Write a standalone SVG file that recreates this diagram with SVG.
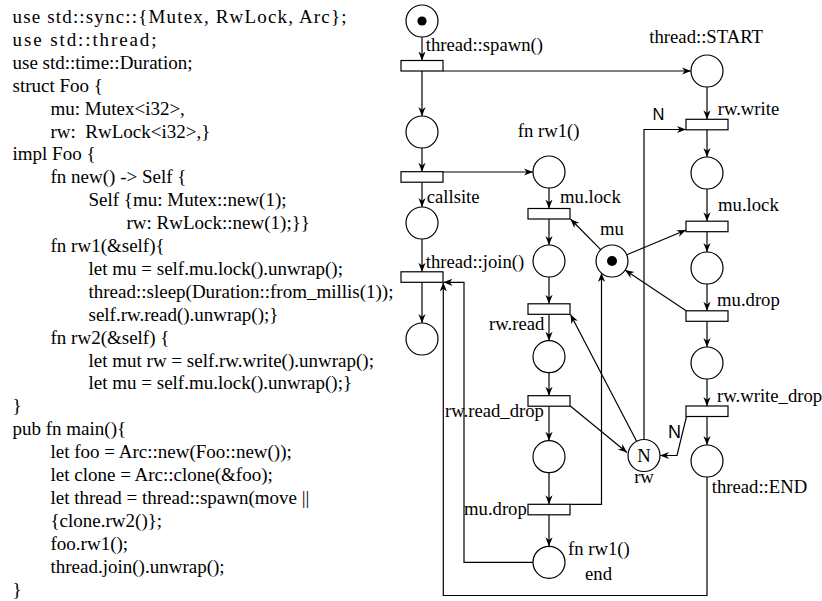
<svg xmlns="http://www.w3.org/2000/svg" width="822" height="601" viewBox="0 0 822 601">
<style>
.code{font-family:"Liberation Serif","Times New Roman",serif;font-size:19px;fill:#000;white-space:pre}
.lbl{font-family:"Liberation Serif","Times New Roman",serif;font-size:18.7px;fill:#000}
.sn{font-family:"Liberation Sans",Arial,sans-serif;fill:#000}
.p{fill:#fff;stroke:#000;stroke-width:1.2}
.t{fill:#fff;stroke:#000;stroke-width:1.2}
.a{fill:none;stroke:#000;stroke-width:1.2;marker-end:url(#ah)}
.l{fill:none;stroke:#000;stroke-width:1.2}
</style>
<defs>
<marker id="ah" viewBox="0 0 10 10" refX="10" refY="5" markerWidth="9" markerHeight="9" markerUnits="userSpaceOnUse" orient="auto"><path d="M0,1 L10,5 L0,9 L3,5 z" fill="#000"/></marker>
</defs>
<rect width="822" height="601" fill="#fff"/>
<g id="code">
<text class="code" x="12.5" y="23" textLength="334" lengthAdjust="spacing">use std::sync::{Mutex, RwLock, Arc};</text>
<text class="code" x="12.5" y="45.9" textLength="144" lengthAdjust="spacing">use std::thread;</text>
<text class="code" x="12.5" y="68.8">use std::time::Duration;</text>
<text class="code" x="12.5" y="91.7">struct Foo {</text>
<text class="code" x="50.5" y="114.6">mu: Mutex&lt;i32&gt;,</text>
<text class="code" x="50.5" y="137.5">rw:  RwLock&lt;i32&gt;,}</text>
<text class="code" x="12.5" y="160.4">impl Foo {</text>
<text class="code" x="50.5" y="183.3">fn new() -&gt; Self {</text>
<text class="code" x="88.5" y="206.2">Self {mu: Mutex::new(1);</text>
<text class="code" x="126.5" y="229.1">rw: RwLock::new(1);}}</text>
<text class="code" x="50.5" y="252">fn rw1(&amp;self){</text>
<text class="code" x="88.5" y="274.9">let mu = self.mu.lock().unwrap();</text>
<text class="code" x="88.5" y="297.8">thread::sleep(Duration::from_millis(1));</text>
<text class="code" x="88.5" y="320.7">self.rw.read().unwrap();}</text>
<text class="code" x="50.5" y="343.6">fn rw2(&amp;self) {</text>
<text class="code" x="88.5" y="366.5">let mut rw = self.rw.write().unwrap();</text>
<text class="code" x="88.5" y="389.4">let mu = self.mu.lock().unwrap();}</text>
<text class="code" x="12.5" y="412.3">}</text>
<text class="code" x="12.5" y="435.2">pub fn main(){</text>
<text class="code" x="50.5" y="458.1">let foo = Arc::new(Foo::new());</text>
<text class="code" x="50.5" y="481">let clone = Arc::clone(&amp;foo);</text>
<text class="code" x="50.5" y="503.9">let thread = thread::spawn(move ||</text>
<text class="code" x="50.5" y="526.8">{clone.rw2()};</text>
<text class="code" x="50.5" y="549.7">foo.rw1();</text>
<text class="code" x="50.5" y="572.6">thread.join().unwrap();</text>
<text class="code" x="12.5" y="595.5">}</text>
</g>
<g id="connectors">
<path class="a" d="M422,37 V60.5"/>
<path class="a" d="M422,71 V116"/>
<path class="a" d="M443,71 H691"/>
<path class="a" d="M422,148 V171.7"/>
<path class="a" d="M443,172 H533"/>
<path class="a" d="M422,182.2 V207"/>
<path class="a" d="M422,239 V271.8"/>
<path class="a" d="M422,282.3 V323"/>
<path class="a" d="M549,188 V208.5"/>
<path class="a" d="M549,219 V245"/>
<path class="a" d="M549,277 V303.8"/>
<path class="a" d="M549,314.3 V340.7"/>
<path class="a" d="M549,372.7 V395.7"/>
<path class="a" d="M549,406.2 V440.7"/>
<path class="a" d="M549,472.7 V504.3"/>
<path class="a" d="M549,514.8 V546.3"/>
<path class="a" d="M533,562.3 H464 V282.3 H443.5"/>
<path class="a" d="M707,477 V595.5 H443.3 V282.5"/>
<path class="a" d="M707,87 V119.3"/>
<path class="a" d="M707,129.8 V157"/>
<path class="a" d="M707,189 V221.2"/>
<path class="a" d="M707,231.7 V252"/>
<path class="a" d="M707,284 V310.8"/>
<path class="a" d="M707,321.3 V347"/>
<path class="a" d="M707,379 V406"/>
<path class="a" d="M707,416.5 V445"/>
<path class="a" d="M600.7,249.6 L570.5,219"/>
<path class="a" d="M626.8,254.8 L686,230"/>
<path class="a" d="M686.5,311 L625,270"/>
<path class="a" d="M570.3,504.3 H601.5 V273"/>
<path class="a" d="M644,439.5 V129.5 H686"/>
<path class="a" d="M636.6,441.3 L570.5,314.5"/>
<path class="a" d="M570.3,406 L627,452.5"/>
<path class="a" d="M686.5,416.5 L677,455.5 H660"/>
</g>
<g id="p-start"><circle class="p" cx="422" cy="21" r="16"/><circle cx="422" cy="21" r="4.6" fill="#000"/></g>
<g id="p1"><circle class="p" cx="422" cy="132" r="16"/></g>
<g id="p-callsite"><circle class="p" cx="422" cy="223" r="16"/></g>
<g id="p3"><circle class="p" cx="422" cy="339" r="16"/></g>
<g id="q-rw1"><circle class="p" cx="549" cy="172" r="16"/></g>
<g id="q1"><circle class="p" cx="549" cy="261" r="16"/></g>
<g id="q2"><circle class="p" cx="549" cy="356.7" r="16"/></g>
<g id="q3"><circle class="p" cx="549" cy="456.7" r="16"/></g>
<g id="q-end"><circle class="p" cx="549" cy="562.3" r="16"/></g>
<g id="r-start"><circle class="p" cx="707" cy="71" r="16"/></g>
<g id="r1"><circle class="p" cx="707" cy="173" r="16"/></g>
<g id="r2"><circle class="p" cx="707" cy="268" r="16"/></g>
<g id="r3"><circle class="p" cx="707" cy="363" r="16"/></g>
<g id="r-end"><circle class="p" cx="707" cy="461" r="16"/></g>
<g id="p-mu"><circle class="p" cx="612" cy="261" r="16"/><circle cx="612" cy="261" r="5" fill="#000"/></g>
<g id="p-rw"><circle class="p" cx="644" cy="455.5" r="16"/><text class="lbl" x="644" y="462" text-anchor="middle">N</text></g>
<g id="t-spawn"><rect class="t" x="401" y="60.5" width="42" height="10.5"/></g>
<g id="t1"><rect class="t" x="401" y="171.7" width="42" height="10.5"/></g>
<g id="t-join"><rect class="t" x="401" y="271.8" width="42" height="10.5"/></g>
<g id="u-mulock"><rect class="t" x="528" y="208.5" width="42" height="10.5"/></g>
<g id="u-rwread"><rect class="t" x="528" y="303.8" width="42" height="10.5"/></g>
<g id="u-rwreaddrop"><rect class="t" x="528" y="395.7" width="42" height="10.5"/></g>
<g id="u-mudrop"><rect class="t" x="528" y="504.3" width="42" height="10.5"/></g>
<g id="v-rwwrite"><rect class="t" x="686" y="119.3" width="42" height="10.5"/></g>
<g id="v-mulock"><rect class="t" x="686" y="221.2" width="42" height="10.5"/></g>
<g id="v-mudrop"><rect class="t" x="686" y="310.8" width="42" height="10.5"/></g>
<g id="v-rwwritedrop"><rect class="t" x="686" y="406" width="42" height="10.5"/></g>
<g id="labels">
<text class="lbl" x="425.7" y="50.7">thread::spawn()</text>
<text class="lbl" x="649.3" y="42.7">thread::START</text>
<text class="lbl" x="517.7" y="136.7">fn rw1()</text>
<text class="lbl" x="717.7" y="115">rw.write</text>
<text class="lbl" x="426.7" y="203">callsite</text>
<text class="lbl" x="560" y="202.7">mu.lock</text>
<text class="lbl" x="718" y="210.7">mu.lock</text>
<text class="lbl" x="600" y="235">mu</text>
<text class="lbl" x="425.7" y="268.3">thread::join()</text>
<text class="lbl" x="717" y="306">mu.drop</text>
<text class="lbl" x="489" y="330">rw.read</text>
<text class="lbl" x="445" y="416.7">rw.read_drop</text>
<text class="lbl" x="717" y="401.7">rw.write_drop</text>
<text class="lbl" x="711.7" y="492.7">thread::END</text>
<text class="lbl" x="464" y="515">mu.drop</text>
<text class="lbl" x="568" y="555">fn rw1()</text>
<text class="lbl" x="585" y="580">end</text>
<text class="lbl" x="644" y="483" text-anchor="middle">rw</text>
<text class="sn" x="652.5" y="120" font-size="16.5">N</text>
<text class="sn" x="668" y="438" font-size="18">N</text>
</g>
</svg>
